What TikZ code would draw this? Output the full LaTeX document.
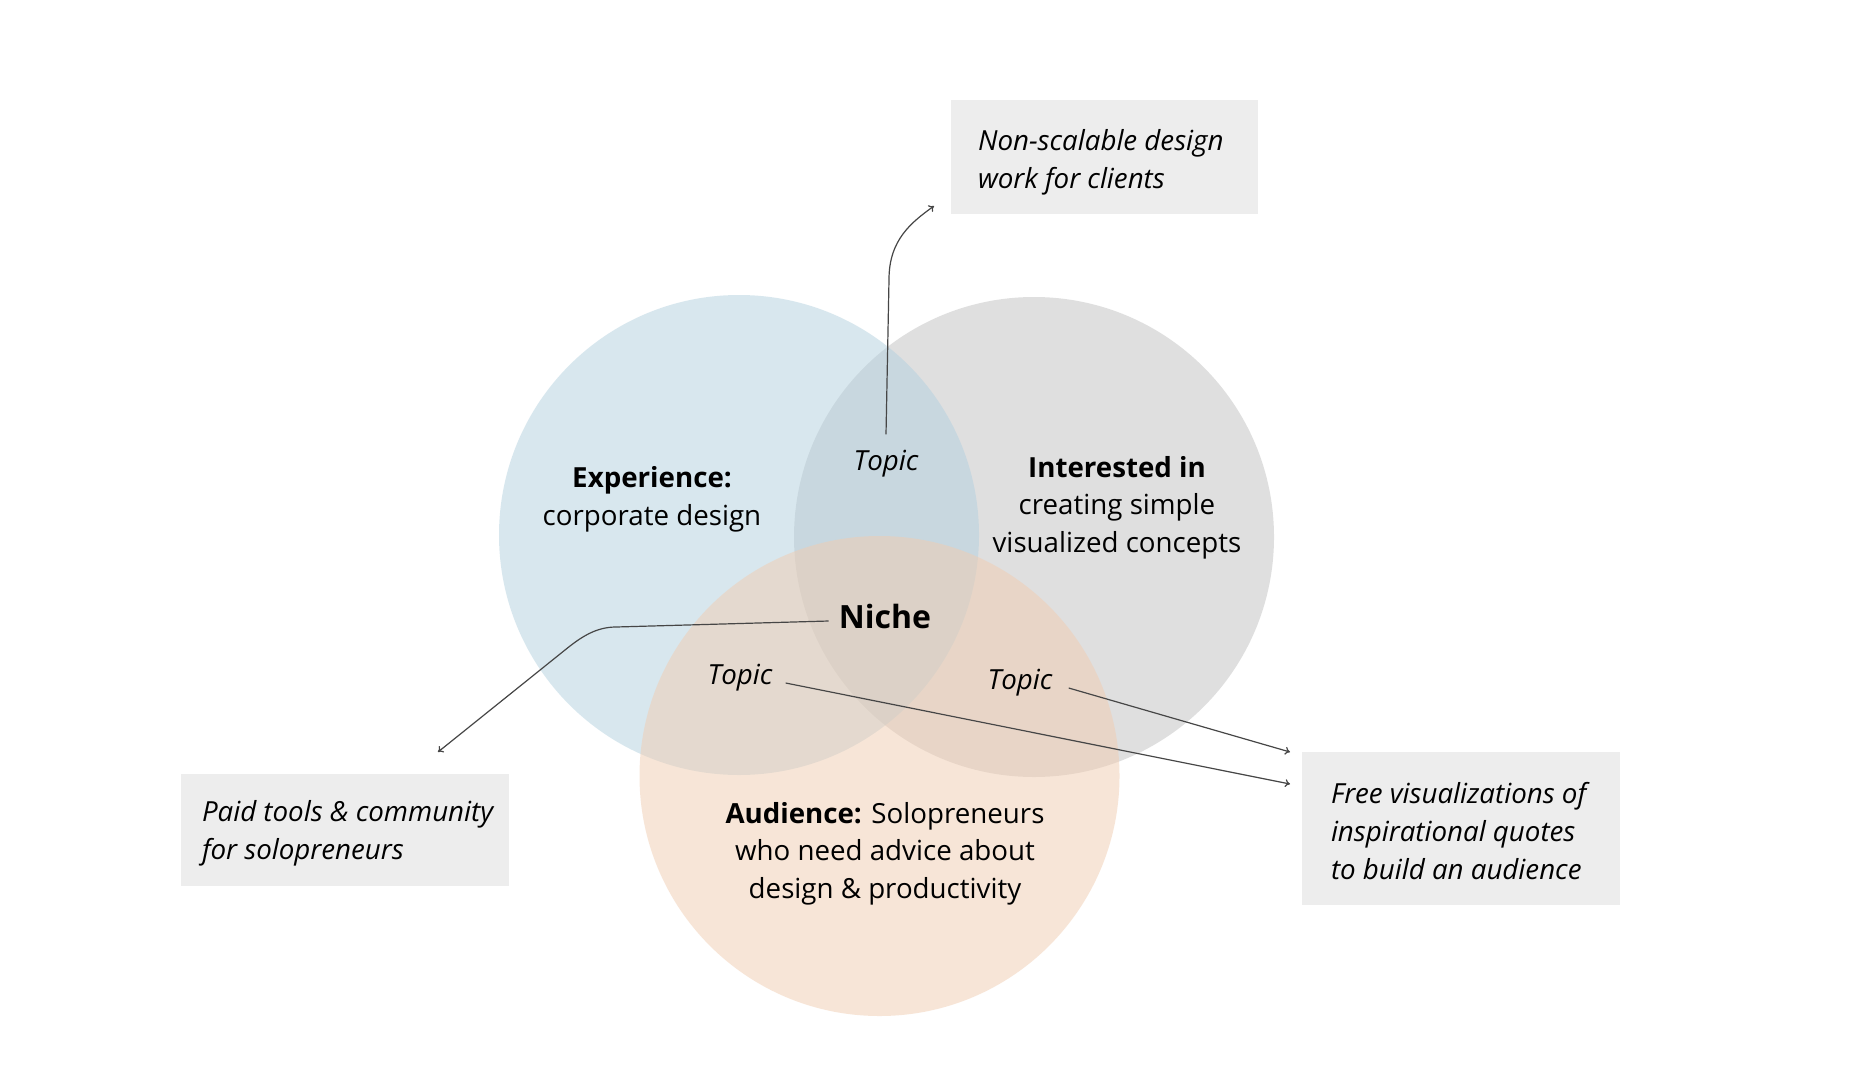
\documentclass[tikz,border=0pt]{standalone}
\usepackage{fontspec}
\setmainfont{Open Sans}
\usetikzlibrary{arrows.meta}
\definecolor{cblue}{RGB}{179,209,223}
\definecolor{cgray}{RGB}{193,193,193}
\definecolor{corange}{RGB}{241,205,177}
\definecolor{boxfill}{RGB}{237,237,237}
\definecolor{linec}{RGB}{70,70,70}
\tikzset{
  venn/.style={opacity=0.5},
  txt/.style={inner sep=0pt, font=\fontsize{27.7}{37.6}\selectfont, align=center},
  itxt/.style={inner sep=0pt, font=\fontsize{27.7}{37.6}\selectfont\itshape, align=left},
  notebox/.style={fill=boxfill, draw=none, inner sep=0pt},
  conn/.style={draw=linec, line width=1.2pt, -{To[length=5pt,width=8pt]}},
}
\begin{document}
\begin{tikzpicture}[x=1pt,y=-1pt]
\useasboundingbox[fill=white] (0,0) rectangle (1870,1076);
% circles
\fill[cgray,venn] (1034,537) circle (240pt);
\fill[cblue,venn] (739,535) circle (240pt);
\fill[corange,venn] (879.5,776) circle (240pt);
% boxes
\node[notebox, minimum width=307pt, minimum height=114pt] (nsbox) at (1104.5,157) {};
\node[itxt, anchor=west] (nstxt) at ([xshift=27pt,yshift=-5.5pt]nsbox.west) {Non-scalable design\\work for clients};
\node[notebox, minimum width=328pt, minimum height=112pt] (ptbox) at (345,830) {};
\node[itxt, anchor=west] (pttxt) at ([xshift=21pt,yshift=-3.5pt]ptbox.west) {Paid tools \& community\\for solopreneurs};
\node[notebox, minimum width=318pt, minimum height=153pt] (fvbox) at (1461,828.5) {};
\node[itxt, anchor=west] (fvtxt) at ([xshift=29pt,yshift=-2.5pt]fvbox.west) {Free visualizations of\\inspirational quotes\\to build an audience};
% circle labels
\node[txt] (exp) at (652,499.5) {\textbf{Experience:}\\corporate design};
\node[txt] (int) at (1117,507.5) {\textbf{Interested in}\\creating simple\\visualized concepts};
\node[txt] (aud) at (885,853.5) {\textbf{Audience:} Solopreneurs\\who need advice about\\design \& productivity};
\node[inner sep=0pt, font=\fontsize{32}{38}\selectfont\bfseries] (niche) at (885,616.5) {Niche};
\node[itxt] (topT) at (886,463.5) {Topic};
\node[itxt] (topL) at (740,678) {Topic};
\node[itxt] (topR) at (1020,683) {Topic};
% arrow ends
\coordinate (nsend) at (934,206);
\coordinate (ptend) at (438,752);
\coordinate (fvend1) at (1290,752);
\coordinate (fvend2) at (1290,784);
% connectors
\draw[conn] ([yshift=15.5pt]topT.north) -- ++(3,-155) .. controls ++(0,-40) and (912,222) .. (nsend);
\draw[conn] ([xshift=-10pt,yshift=-4.5pt]niche.west) -- (616,627) .. controls (596,627) and (581,637) .. (565,650) -- (ptend);
\draw[conn] ([xshift=13pt,yshift=-5pt]topL.east) -- (fvend2);
\draw[conn] ([xshift=16pt,yshift=-5pt]topR.east) -- (fvend1);
\end{tikzpicture}
\end{document}
